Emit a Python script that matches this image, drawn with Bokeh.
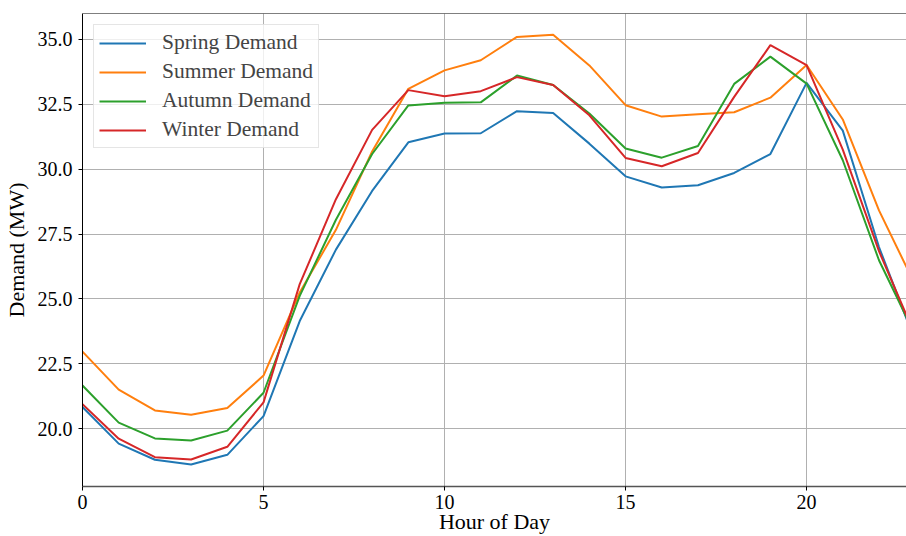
from bokeh.plotting import figure
from bokeh.models import Range1d, FixedTicker, NumeralTickFormatter, Legend, LegendItem, Span
from bokeh.embed import file_html
from bokeh.resources import INLINE

hours = list(range(24))
spring = [20.84, 19.43, 18.81, 18.63, 19.0, 20.49, 24.15, 26.9, 29.16, 31.03, 31.37, 31.38,
          32.23, 32.16, 30.98, 29.72, 29.29, 29.38, 29.85, 30.58, 33.32, 31.48, 27.0, 23.37]
summer = [22.97, 21.51, 20.71, 20.54, 20.8, 22.05, 25.25, 27.66, 30.68, 33.09, 33.8, 34.19,
          35.09, 35.17, 33.99, 32.46, 32.02, 32.11, 32.19, 32.75, 34.01, 31.91, 28.41, 25.54]
autumn = [21.67, 20.24, 19.63, 19.55, 19.93, 21.39, 25.12, 28.05, 30.58, 32.45, 32.55, 32.57,
          33.6, 33.24, 32.14, 30.79, 30.44, 30.89, 33.28, 34.33, 33.29, 30.34, 26.49, 23.61]
winter = [20.95, 19.62, 18.91, 18.82, 19.31, 21.02, 25.57, 28.84, 31.51, 33.04, 32.8, 33.0,
          33.54, 33.24, 32.07, 30.43, 30.11, 30.62, 32.78, 34.77, 34.0, 30.75, 26.84, 23.59]
series_names = ["Spring Demand", "Summer Demand", "Autumn Demand", "Winter Demand"]
colors = ["#1f77b4", "#ff7f0e", "#2ca02c", "#d62728"]
x_ticks = [0, 5, 10, 15, 20]
y_ticks = [20.0, 22.5, 25.0, 27.5, 30.0, 32.5, 35.0]

FONT = "Liberation Serif"

p = figure(width=906, height=536, output_backend="svg", toolbar_location=None,
           x_range=Range1d(0, 22.76), y_range=Range1d(17.78, 35.99),
           min_border_left=82, min_border_right=0, min_border_top=13, min_border_bottom=50)
p.outline_line_color = None
p.background_fill_color = "white"

items = []
for name, col, vals in zip(series_names, colors, [spring, summer, autumn, winter]):
    r = p.line(hours, vals, line_color=col, line_width=2)
    items.append(LegendItem(label=name, renderers=[r]))

p.add_layout(Span(location=p.y_range.end, dimension="width", line_color="black", line_width=1))

for ax in (p.xaxis[0], p.yaxis[0]):
    ax.major_label_text_font = FONT
    ax.major_label_text_font_size = "20px"
    ax.major_label_text_color = "black"
    ax.axis_label_text_font = FONT
    ax.axis_label_text_font_style = "normal"
    ax.axis_label_text_font_size = "22px"
    ax.axis_label_text_color = "black"
    ax.minor_tick_line_color = None
    ax.major_tick_in = 0
    ax.major_tick_out = 4
    ax.major_tick_line_color = "black"
    ax.axis_line_color = "black"

p.xaxis[0].ticker = FixedTicker(ticks=x_ticks)
p.yaxis[0].ticker = FixedTicker(ticks=y_ticks)
p.yaxis[0].formatter = NumeralTickFormatter(format="0.0")
p.xaxis[0].axis_label = "Hour of Day"
p.yaxis[0].axis_label = "Demand (MW)"
p.xaxis[0].major_label_standoff = 4
p.yaxis[0].major_label_standoff = 6
p.xaxis[0].axis_label_standoff = -3
p.yaxis[0].axis_label_standoff = 6
p.xaxis[0].axis_line_color = "#555555"
p.xaxis[0].axis_line_width = 1.5

p.xgrid.ticker = FixedTicker(ticks=x_ticks)
p.ygrid.ticker = FixedTicker(ticks=y_ticks)
p.xgrid.grid_line_color = "#b0b0b0"
p.ygrid.grid_line_color = "#b0b0b0"
p.xgrid.grid_line_width = 1
p.ygrid.grid_line_width = 1

legend = Legend(items=items, location="top_left", margin=11, padding=5,
                glyph_width=47, glyph_height=20, label_height=20, label_standoff=16,
                spacing=4, label_text_font=FONT, label_text_font_size="21.5px",
                border_line_color="#cccccc", border_line_width=1,
                background_fill_alpha=0.8)
p.add_layout(legend)

open("out.html", "w").write(file_html(p, INLINE))
